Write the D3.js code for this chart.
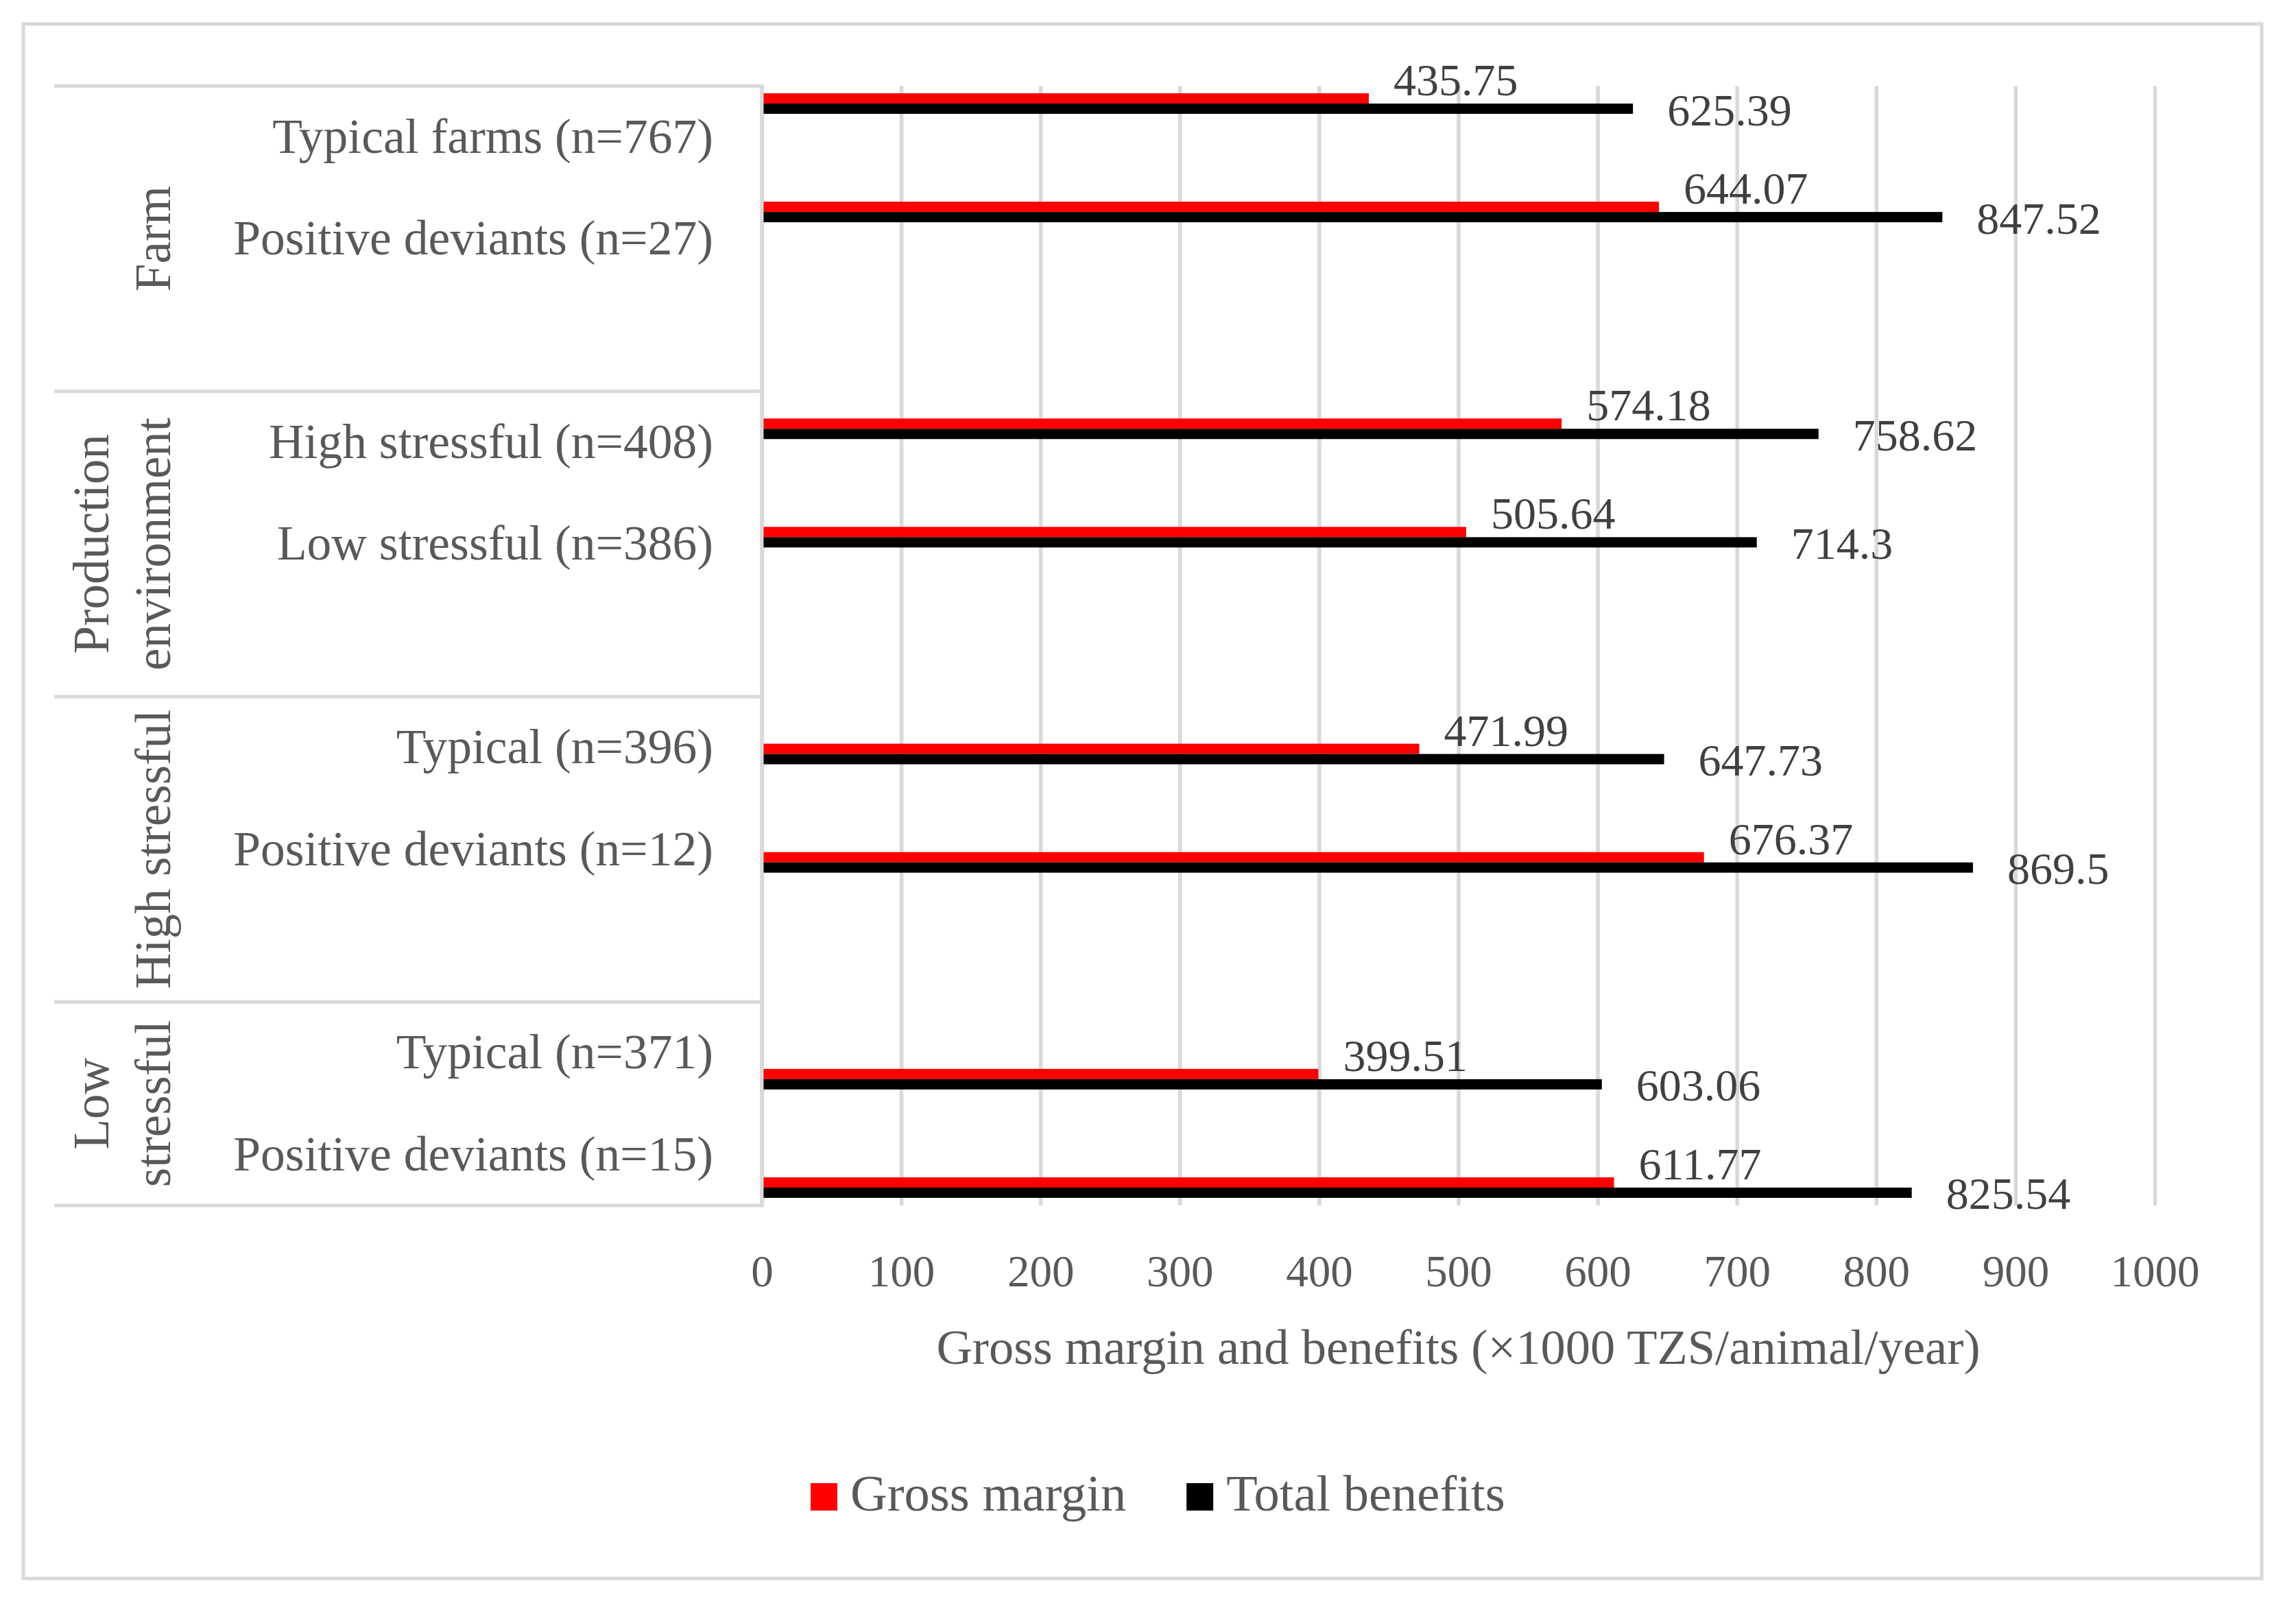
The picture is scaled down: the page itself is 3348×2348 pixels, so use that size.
<!DOCTYPE html>
<html>
<head>
<meta charset="utf-8">
<script src="https://cdn.jsdelivr.net/npm/d3@7"></script>
<style>
  body { margin: 0; background: #fff; }
  text { font-family: "Liberation Serif", "Times New Roman", serif; }
</style>
</head>
<body>
<svg id="chart" width="3348" height="2348"></svg>
<script>
// values
const groupLines = [["Farm"], ["Production", "environment"], ["High stressful"], ["Low", "stressful"]];
const categories = ["Typical farms (n=767)", "Positive deviants (n=27)",
  "High stressful (n=408)", "Low stressful (n=386)",
  "Typical (n=396)", "Positive deviants (n=12)",
  "Typical (n=371)", "Positive deviants (n=15)"];
const categoryGroup = [0, 0, 1, 1, 2, 2, 3, 3];
const grossMargin = [435.75, 644.07, 574.18, 505.64, 471.99, 676.37, 399.51, 611.77];
const totalBenefits = [625.39, 847.52, 758.62, 714.3, 647.73, 869.5, 603.06, 825.54];
const seriesNames = ["Gross margin", "Total benefits"];
const seriesColors = ["#ff0000", "#000000"];
const xTicks = [0, 100, 200, 300, 400, 500, 600, 700, 800, 900, 1000];
const xTitle = "Gross margin and benefits (\u00d71000 TZS/animal/year)";

const svg = d3.select("#chart");
const grey = "#d9d9d9", textGrey = "#595959";

// slots: each group's categories followed by an empty slot (not after the last group)
const slots = [];
groupLines.forEach((g, gi) => {
  categories.forEach((c, ci) => { if (categoryGroup[ci] === gi) slots.push("c" + ci); });
  if (gi < groupLines.length - 1) slots.push("blank" + gi);
});

const plotTop = 125.5, plotBottom = 1758;
const x = d3.scaleLinear().domain([0, 1000]).range([1111, 3142]);
const yLabel = d3.scaleBand().domain(slots).range([plotTop, plotBottom]);
const yBar = d3.scaleBand().domain(slots).range([72, 1811]);

// outer frame
svg.append("rect")
  .attr("x", 34).attr("y", 35).attr("width", 3264).attr("height", 2267)
  .attr("fill", "none").attr("stroke", grey).attr("stroke-width", 5);

// gridlines
svg.append("g")
  .attr("transform", `translate(0,${plotTop})`)
  .call(d3.axisTop(x).tickValues(xTicks).tickSize(-(plotBottom - plotTop)).tickFormat(""))
  .call(g => g.select(".domain").remove())
  .call(g => g.selectAll("line").attr("stroke", grey).attr("stroke-width", 5.5));

// category table lines
const groupStarts = groupLines.map((g, gi) => yLabel("c" + categoryGroup.indexOf(gi)));
const hLines = groupStarts.concat([plotBottom]);
svg.append("g").selectAll("line")
  .data(hLines).join("line")
  .attr("x1", 79).attr("x2", x(0))
  .attr("y1", d => d).attr("y2", d => d)
  .attr("stroke", grey).attr("stroke-width", 5);
svg.append("line")
  .attr("x1", x(0)).attr("x2", x(0))
  .attr("y1", plotTop - 2.5).attr("y2", plotBottom + 2.5)
  .attr("stroke", grey).attr("stroke-width", 5.5);

// category labels
svg.append("g").selectAll("text")
  .data(categories).join("text")
  .attr("x", 1040)
  .attr("y", (d, i) => yLabel("c" + i) + yLabel.bandwidth() / 2 + 23)
  .attr("text-anchor", "end")
  .attr("font-size", 71.5)
  .attr("fill", textGrey)
  .text(d => d);

// group labels (rotated)
const groupG = svg.append("g").selectAll("g")
  .data(groupLines).join("g")
  .attr("transform", (d, gi) => {
    const y0 = groupStarts[gi];
    const y1 = gi < groupLines.length - 1 ? groupStarts[gi + 1] : plotBottom;
    return `translate(248,${(y0 + y1) / 2}) rotate(-90)`;
  });
groupG.selectAll("text")
  .data(d => d.map((t, i) => ({t, k: d.length - 1 - i})))
  .join("text")
  .attr("x", 0)
  .attr("y", d => -d.k * 90)
  .attr("text-anchor", "middle")
  .attr("font-size", 73)
  .attr("fill", textGrey)
  .text(d => d.t);

// bars
const rows = categories.map((c, i) => ({key: "c" + i, values: [grossMargin[i], totalBenefits[i]]}));
const barH = 15;
const row = svg.append("g").selectAll("g")
  .data(rows).join("g")
  .attr("transform", d => `translate(0,${yBar(d.key) + yBar.bandwidth() / 2})`);
const ySeries = d3.scaleBand().domain(seriesNames).range([-barH, barH]);
row.selectAll("rect")
  .data(d => d.values.map((v, si) => ({v, si})))
  .join("rect")
  .attr("x", x(0) + 2.5)
  .attr("y", d => ySeries(seriesNames[d.si]))
  .attr("width", d => x(d.v) - x(0) - 2.5)
  .attr("height", ySeries.bandwidth())
  .attr("fill", d => seriesColors[d.si]);

// data labels
row.selectAll("text")
  .data(d => d.values.map((v, si) => ({v, si})))
  .join("text")
  .attr("x", d => x(d.v) + (d.si === 0 ? 36 : 50))
  .attr("y", d => d.si === 0 ? ySeries(seriesNames[0]) + 3 : ySeries(seriesNames[1]) + barH / 2 + 24)
  .attr("font-size", 66)
  .attr("fill", "#404040")
  .text(d => String(d.v));

// x axis tick labels
svg.append("g")
  .attr("transform", `translate(0,${plotBottom})`)
  .call(d3.axisBottom(x).tickValues(xTicks).tickSize(0).tickFormat(d3.format("d")))
  .call(g => g.select(".domain").remove())
  .call(g => g.selectAll("text")
    .attr("y", 118).attr("dy", null)
    .attr("font-size", 65)
    .attr("font-family", "Liberation Serif")
    .attr("fill", textGrey));

// axis title
svg.append("text")
  .attr("x", (x(0) + x(1000)) / 2)
  .attr("y", 1989)
  .attr("text-anchor", "middle")
  .attr("font-size", 72.5)
  .attr("fill", textGrey)
  .text(xTitle);

// legend
const legend = svg.append("g").attr("transform", "translate(1182,2203)");
let lx = 0;
seriesNames.forEach((name, i) => {
  legend.append("rect")
    .attr("x", lx).attr("y", -40).attr("width", 39).attr("height", 40)
    .attr("fill", seriesColors[i]);
  const t = legend.append("text")
    .attr("x", lx + 58).attr("y", 0)
    .attr("font-size", 74.5)
    .attr("fill", textGrey)
    .text(name);
  lx += 58 + t.node().getComputedTextLength() + 88;
});
</script>
</body>
</html>
